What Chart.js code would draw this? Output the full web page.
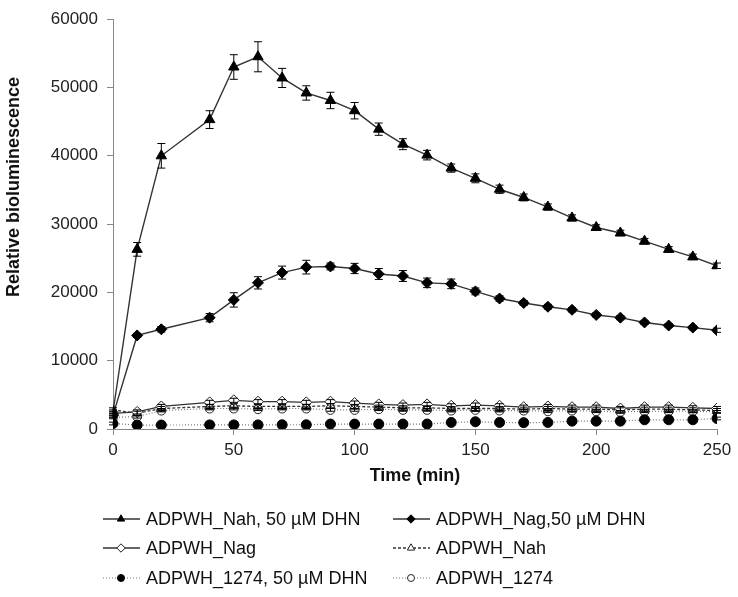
<!DOCTYPE html>
<html><head><meta charset="utf-8">
<script src="https://cdn.jsdelivr.net/npm/chart.js@4.4.1/dist/chart.umd.min.js"></script>
<style>html,body{margin:0;padding:0;background:#fff;} #wrap{width:738px;height:597px;position:relative;}</style>
</head><body><div id="wrap"><canvas id="c" width="738" height="597"></canvas></div>
<script>
// ---- data ----
const timeMin = [0,10,20,40,50,60,70,80,90,100,110,120,130,140,150,160,170,180,190,200,210,220,230,240,250];
const nahDHN    = [2500,26300,40000,45300,53000,54500,51400,49200,48100,46600,43900,41700,40100,38200,36700,35100,33900,32500,30900,29500,28700,27500,26300,25200,23900];
const nahDHNErr = [300,1000,1800,1300,1800,2200,1400,1050,1200,1200,900,800,700,600,650,600,500,450,450,400,400,400,400,400,400];
const nagDHN    = [2000,13700,14600,16300,18900,21400,22900,23700,23800,23500,22700,22400,21400,21250,20150,19100,18450,17900,17450,16700,16300,15600,15150,14850,14450];
const nagDHNErr = [300,300,400,600,1050,900,950,1000,500,750,800,800,700,700,500,400,350,350,300,300,300,300,300,300,300];
const nag       = [2300,2500,3300,3900,4200,4000,4000,3900,4000,3800,3600,3500,3600,3400,3500,3400,3200,3300,3200,3200,3000,3200,3200,3100,3000];
const nagErr    = [300,300,300,300,300,300,300,300,300,300,300,300,300,300,300,300,300,300,300,300,300,300,300,300,300];
const nah       = [2800,2300,3000,3300,3400,3300,3300,3300,3400,3300,3200,3100,3100,3000,3000,3000,2900,3000,2900,2900,2800,2900,2900,2800,2700];
const nahErr    = [300,300,300,300,300,300,300,300,300,300,300,300,300,300,300,300,300,300,300,300,300,300,300,300,300];
const r1274DHN  = [800,580,580,600,600,600,620,620,720,720,720,720,720,960,1060,960,930,960,1150,1150,1150,1350,1350,1350,1540];
const r1274     = [1700,1800,2700,3000,3000,2900,3000,3000,2800,2800,2900,2800,2800,2700,2800,2700,2700,2600,2700,2600,2500,2600,2600,2600,2500];
const r1274Err  = [200,200,200,200,200,200,200,200,200,200,200,200,200,200,200,200,200,200,200,200,200,200,200,200,200];
const seriesNames = ['ADPWH_Nah, 50 \u00b5M DHN','ADPWH_Nag,50 \u00b5M DHN','ADPWH_Nag','ADPWH_Nah','ADPWH_1274, 50 \u00b5M DHN','ADPWH_1274'];
const xTicks = [0,50,100,150,200,250];
const yTicks = [0,10000,20000,30000,40000,50000,60000];
const xTitle = 'Time (min)';
const yTitle = 'Relative bioluminescence';

const pts = arr => arr.map((v,i)=>({x:timeMin[i], y:v}));

const datasets = [
  {label:seriesNames[0], data:pts(nahDHN), errors:nahDHNErr, pointStyle:'triangle', pointRadius:6, backgroundColor:'#000', pointBorderColor:'#000', borderColor:'#333', borderWidth:1.4, pointBorderWidth:1},
  {label:seriesNames[1], data:pts(nagDHN), errors:nagDHNErr, pointStyle:'rectRot', pointRadius:5.5, backgroundColor:'#000', pointBorderColor:'#000', borderColor:'#333', borderWidth:1.4, pointBorderWidth:1},
  {label:seriesNames[2], data:pts(nag), errors:nagErr, pointStyle:'rectRot', pointRadius:5.5, backgroundColor:'#fff', pointBorderColor:'#222', borderColor:'#333', borderWidth:1.3, pointBorderWidth:1},
  {label:seriesNames[3], data:pts(nah), errors:nahErr, pointStyle:'triangle', pointRadius:5.5, backgroundColor:'#fff', pointBorderColor:'#222', borderColor:'#333', borderWidth:1.3, borderDash:[3,2], pointBorderWidth:1},
  {label:seriesNames[4], data:pts(r1274DHN), errors:r1274Err, pointStyle:'circle', pointRadius:5, backgroundColor:'#000', pointBorderColor:'#000', borderColor:'#777', borderWidth:1.2, borderDash:[1,2], pointBorderWidth:1},
  {label:seriesNames[5], data:pts(r1274), errors:r1274Err, pointStyle:'circle', pointRadius:4.5, backgroundColor:'#fff', pointBorderColor:'#222', borderColor:'#777', borderWidth:1.2, borderDash:[1,2], pointBorderWidth:1}
];
datasets.forEach(d=>{ d.pointBackgroundColor = d.backgroundColor; d.fill=false; d.tension=0; });

const errorBars = {
  id:'errorBars',
  afterDatasetsDraw(chart){
    const ctx = chart.ctx, xs = chart.scales.x, ys = chart.scales.y;
    ctx.save();
    ctx.strokeStyle = '#000'; ctx.lineWidth = 1;
    chart.data.datasets.forEach(ds=>{
      if(!ds.errors) return;
      ds.data.forEach((p,i)=>{
        const e = ds.errors[i];
        const x = xs.getPixelForValue(p.x);
        const y1 = ys.getPixelForValue(p.y+e), y2 = ys.getPixelForValue(p.y-e);
        ctx.beginPath();
        ctx.moveTo(x,y1); ctx.lineTo(x,y2);
        ctx.moveTo(x-4,y1); ctx.lineTo(x+4,y1);
        ctx.moveTo(x-4,y2); ctx.lineTo(x+4,y2);
        ctx.stroke();
      });
    });
    ctx.restore();
  }
};

const titlesAndLegend = {
  id:'titlesAndLegend',
  afterDraw(chart){
    const ctx = chart.ctx, area = chart.chartArea;
    ctx.save();
    ctx.fillStyle = '#111';
    ctx.font = 'bold 18px "Liberation Sans", Arial, sans-serif';
    ctx.textAlign = 'center'; ctx.textBaseline = 'middle';
    ctx.fillText(xTitle, (area.left+area.right)/2, 476);
    ctx.save();
    ctx.translate(14, 187);
    ctx.rotate(-Math.PI/2);
    ctx.fillText(yTitle, 0, 0);
    ctx.restore();
    // legend: two columns, three rows
    const colX = [103, 393], rowY = [519, 548, 578];
    ctx.font = '18px "Liberation Sans", Arial, sans-serif';
    ctx.textAlign = 'left';
    chart.data.datasets.forEach((ds,i)=>{
      const x0 = colX[i%2], y = rowY[Math.floor(i/2)];
      ctx.save();
      ctx.strokeStyle = ds.borderColor; ctx.lineWidth = ds.borderWidth;
      ctx.setLineDash(ds.borderDash || []);
      ctx.beginPath(); ctx.moveTo(x0,y); ctx.lineTo(x0+37,y); ctx.stroke();
      ctx.setLineDash([]);
      ctx.fillStyle = ds.backgroundColor; ctx.strokeStyle = ds.pointBorderColor; ctx.lineWidth = 1;
      Chart.helpers.drawPoint(ctx, {pointStyle: ds.pointStyle, radius: ds.pointStyle==='circle'?3.5:4.2, rotation:0, borderWidth:1}, x0+18, y);
      ctx.restore();
      ctx.fillStyle = '#111';
      ctx.fillText(ds.label, x0+43, y+1);
    });
    ctx.restore();
  }
};

new Chart(document.getElementById('c'), {
  type:'line',
  data:{datasets},
  plugins:[errorBars, titlesAndLegend],
  options:{
    responsive:false, animation:false, devicePixelRatio:1,
    layout:{padding:{left:0, right:21, top:13, bottom:0}},
    plugins:{legend:{display:false}, tooltip:{enabled:false}, title:{display:false}},
    scales:{
      x:{type:'linear', min:0, max:250,
        afterFit(s){ s.height = 168; },
        afterBuildTicks(s){ s.ticks = xTicks.map(v=>({value:v})); },
        grid:{drawOnChartArea:false, drawTicks:true, tickLength:6, color:'#888'},
        border:{display:true, color:'#888', width:1},
        ticks:{padding:5, color:'#222', font:{size:17, family:'"Liberation Sans", Arial, sans-serif'}, maxRotation:0, callback:v=>String(v)}
      },
      y:{type:'linear', min:0, max:60000,
        afterFit(s){ s.width = 113; },
        afterBuildTicks(s){ s.ticks = yTicks.map(v=>({value:v})); },
        grid:{drawOnChartArea:false, drawTicks:true, tickLength:6, color:'#888'},
        border:{display:true, color:'#888', width:1},
        ticks:{padding:9, color:'#222', font:{size:17, family:'"Liberation Sans", Arial, sans-serif'}, callback:v=>String(v)}
      }
    }
  }
});
</script></body></html>
